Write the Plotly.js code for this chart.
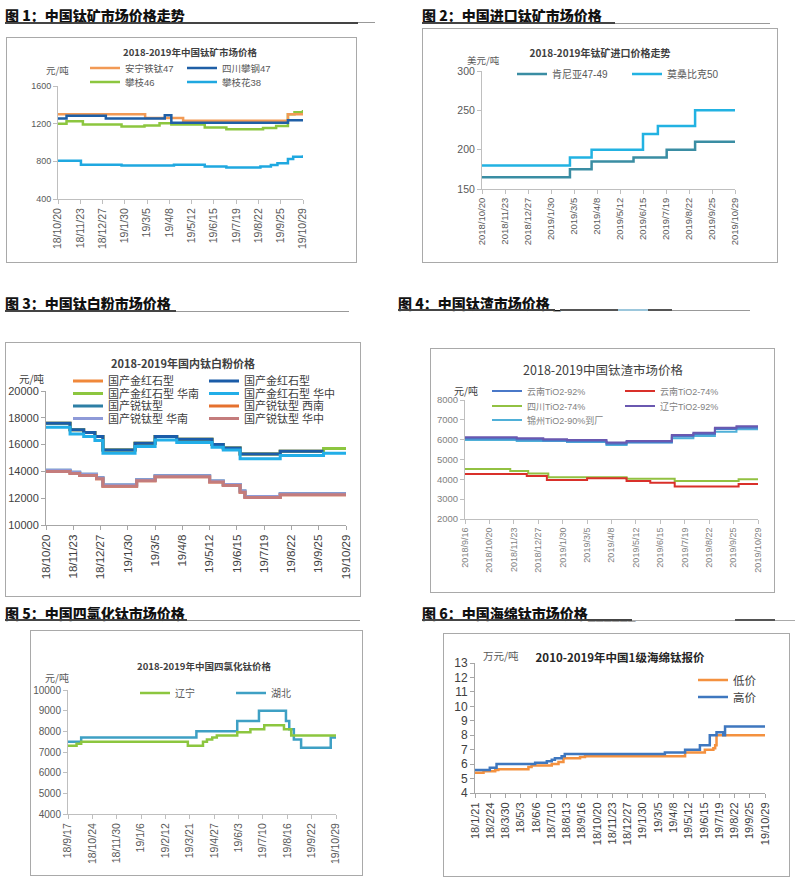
<!DOCTYPE html>
<html><head><meta charset="utf-8">
<script src="https://cdn.plot.ly/plotly-3.0.1.min.js"></script>
<style>
body{margin:0;background:#fff;width:800px;height:882px;position:relative;overflow:hidden;font-family:"Noto Sans CJK SC",sans-serif;}
.h{position:absolute;font-weight:900;font-size:14px;color:#111;line-height:16px;white-space:nowrap;}
.ul{position:absolute;height:0;}
.box{position:absolute;border:1px solid #a9a9a9;box-sizing:border-box;pointer-events:none;}
.chart{position:absolute;}
</style></head><body>
<div class="h" style="left:5px;top:7px">图 1：中国钛矿市场价格走势</div>
<div class="ul" style="left:5px;top:22px;width:353px;border-top:2px solid #444"></div>
<div class="ul" style="left:358px;top:22px;width:17px;border-top:1px solid #999"></div>
<div class="h" style="left:422px;top:7px">图 2：中国进口钛矿市场价格</div>
<div class="ul" style="left:422px;top:22px;width:193px;border-top:2px solid #444"></div>
<div class="ul" style="left:615px;top:23px;width:155px;border-top:1px solid #999"></div>
<div class="h" style="left:5px;top:295px">图 3：中国钛白粉市场价格</div>
<div class="ul" style="left:5px;top:310px;width:171px;border-top:2px solid #444"></div>
<div class="ul" style="left:176px;top:311px;width:173px;border-top:1px solid #999"></div>
<div class="h" style="left:398px;top:295px">图 4：中国钛渣市场价格 _</div>
<div class="ul" style="left:398px;top:309px;width:157px;border-top:2px solid #444"></div>
<div class="ul" style="left:560px;top:309px;width:58px;border-top:2px solid #555"></div>
<div class="ul" style="left:618px;top:309px;width:30px;border-top:2px solid #9cc7dc"></div>
<div class="ul" style="left:648px;top:309px;width:24px;border-top:2px solid #555"></div>
<div class="ul" style="left:672px;top:310px;width:78px;border-top:1px solid #999"></div>
<div class="h" style="left:5px;top:605px">图 5：中国四氯化钛市场价格</div>
<div class="ul" style="left:5px;top:619px;width:182px;border-top:2px solid #444"></div>
<div class="ul" style="left:187px;top:620px;width:173px;border-top:1px solid #999"></div>
<div class="h" style="left:422px;top:605px">图 6：中国海绵钛市场价格______</div>
<div class="ul" style="left:422px;top:619px;width:210px;border-top:2px solid #444"></div>
<div class="ul" style="left:632px;top:620px;width:103px;border-top:1px solid #aaa"></div>
<div class="ul" style="left:735px;top:619px;width:40px;border-top:2px solid #555"></div>
<div class="ul" style="left:775px;top:620px;width:20px;border-top:1px solid #aaa"></div>
<script>
// ---------- Panel 1: 中国钛矿 ----------
const p1_tickDates = ['2018-10-20','2018-11-23','2018-12-27','2019-01-30','2019-03-05','2019-04-08','2019-05-12','2019-06-15','2019-07-19','2019-08-22','2019-09-25','2019-10-29'];
const p1_tickText = ['18/10/20','18/11/23','18/12/27','19/1/30','19/3/5','19/4/8','19/5/12','19/6/15','19/7/19','19/8/22','19/9/25','19/10/29'];
const p1_names = ['安宁铁钛47','四川攀钢47','攀枝46','攀枝花38'];
const p1_anning_x = ['2018-10-20','2019-03-02','2019-04-29','2019-10-06','2019-10-29'];
const p1_anning_y = [1300,1260,1230,1300,1305];
const p1_panggang_x = ['2018-10-20','2018-11-02','2019-01-01','2019-04-01','2019-04-11','2019-10-06','2019-10-29'];
const p1_panggang_y = [1255,1285,1255,1290,1210,1235,1235];
const p1_pz46_x = ['2018-10-20','2018-11-02','2018-11-27','2019-01-25','2019-03-01','2019-03-24','2019-04-11','2019-06-01','2019-07-04','2019-08-29','2019-09-18','2019-10-06','2019-10-16','2019-10-29'];
const p1_pz46_y = [1200,1225,1190,1170,1180,1205,1190,1160,1140,1155,1175,1300,1320,1345];
const p1_pzh38_x = ['2018-10-20','2018-11-24','2019-01-25','2019-04-15','2019-06-01','2019-07-04','2019-08-25','2019-09-10','2019-09-20','2019-10-06','2019-10-14','2019-10-29'];
const p1_pzh38_y = [805,765,755,765,745,735,745,760,780,825,850,865];

// ---------- Panel 2: 进口钛矿 ----------
const p2_tickDates = p1_tickDates;
const p2_tickText = ['2018/10/20','2018/11/23','2018/12/27','2019/1/30','2019/3/5','2019/4/8','2019/5/12','2019/6/15','2019/7/19','2019/8/22','2019/9/25','2019/10/29'];
const p2_names = ['肯尼亚47-49','莫桑比克50'];
const p2_kenya_x = ['2018-10-20','2019-02-27','2019-03-31','2019-06-01','2019-07-20','2019-08-31','2019-10-29'];
const p2_kenya_y = [165,175,185,190,200,210,210];
const p2_moz_x = ['2018-10-20','2019-02-27','2019-03-31','2019-06-15','2019-07-07','2019-08-31','2019-10-29'];
const p2_moz_y = [180,190,200,220,230,250,250];

// ---------- Panel 3: 钛白粉 ----------
const p3_tickDates = p1_tickDates;
const p3_tickText = p1_tickText;
const p3_names = ['国产金红石型','国产金红石型','国产金红石型 华南','国产金红石型 华中','国产锐钛型','国产锐钛型 西南','国产锐钛型 华南','国产锐钛型 华中'];
const p3_rutile_x = ['2018-10-20','2018-11-19','2018-12-06','2018-12-20','2018-12-30','2019-02-08','2019-03-05','2019-04-01','2019-05-15','2019-05-29','2019-06-19','2019-08-08','2019-10-01'];
const p3_rutile_y = [17600,17100,16900,16600,15600,16100,16600,16400,16000,15750,15300,15500,15500];
const p3_rutileSouth_x = ['2018-10-20','2018-11-19','2018-12-06','2018-12-20','2018-12-30','2019-02-08','2019-03-05','2019-04-01','2019-05-15','2019-05-29','2019-06-19','2019-08-08','2019-10-01','2019-10-29'];
const p3_rutileSouth_y = [17600,17100,16900,16600,15600,16100,16600,16400,16000,15750,15300,15500,15700,15700];
const p3_rutileCentral_x = ['2018-10-20','2018-11-19','2018-12-06','2018-12-20','2018-12-30','2019-02-08','2019-03-05','2019-04-01','2019-05-15','2019-05-29','2019-06-19','2019-08-08','2019-10-01','2019-10-29'];
const p3_rutileCentral_y = [17300,16800,16600,16300,15350,15850,16350,16150,15800,15600,14950,15180,15350,15350];
const p3_anatase_x = ['2018-10-20','2018-11-19','2018-12-01','2018-12-22','2018-12-30','2019-02-10','2019-03-05','2019-05-12','2019-05-29','2019-06-19','2019-06-25','2019-08-08','2019-10-29'];
const p3_anatase_y = [14000,13850,13700,13450,12900,13300,13600,13200,12950,12450,12050,12250,12250];
const p3_anataseSouth_y = [14080,13930,13780,13530,12980,13380,13680,13280,13030,12530,12130,12330,12330];

// ---------- Panel 4: 钛渣 ----------
const p4_tickDates = ['2018-09-16','2018-10-20','2018-11-23','2018-12-27','2019-01-30','2019-03-05','2019-04-08','2019-05-12','2019-06-15','2019-07-19','2019-08-22','2019-09-25','2019-10-29'];
const p4_tickText = ['2018/9/16','2018/10/20','2018/11/23','2018/12/27','2019/1/30','2019/3/5','2019/4/8','2019/5/12','2019/6/15','2019/7/19','2019/8/22','2019/9/25','2019/10/29'];
const p4_names = ['云南TiO2-92%','云南TiO2-74%','四川TiO2-74%','辽宁TiO2-92%','锦州TiO2-90%到厂'];
const p4_ln92_x = ['2018-09-16','2018-11-27','2019-01-03','2019-02-05','2019-04-01','2019-04-29','2019-07-01','2019-07-31','2019-08-30','2019-09-29','2019-10-29'];
const p4_ln92_y = [6120,6070,6020,5980,5860,5930,6230,6350,6600,6680,6680];
const p4_yn92_y = [6060,6010,5960,5920,5800,5870,6170,6290,6540,6600,6600];
const p4_jz90_x = ['2018-09-16','2018-11-27','2019-02-05','2019-04-01','2019-04-29','2019-07-01','2019-07-31','2019-08-30','2019-09-29','2019-10-29'];
const p4_jz90_y = [5980,5930,5880,5730,5860,6070,6190,6400,6520,6520];
const p4_sc74_x = ['2018-09-16','2018-11-18','2018-12-13','2019-01-10','2019-04-29','2019-07-05','2019-10-02','2019-10-29'];
const p4_sc74_y = [4520,4420,4300,4100,4030,3910,4010,4010];
const p4_yn74_x = ['2018-09-16','2018-12-11','2019-01-08','2019-03-05','2019-04-29','2019-06-01','2019-07-05','2019-10-02','2019-10-29'];
const p4_yn74_y = [4270,4170,3970,4050,3920,3830,3640,3760,3760];

// ---------- Panel 5: 四氯化钛 ----------
const p5_tickDates = ['2018-09-17','2018-10-24','2018-11-30','2019-01-06','2019-02-12','2019-03-21','2019-04-27','2019-06-03','2019-07-10','2019-08-16','2019-09-22','2019-10-29'];
const p5_tickText = ['18/9/17','18/10/24','18/11/30','19/1/6','19/2/12','19/3/21','19/4/27','19/6/3','19/7/10','19/8/16','19/9/22','19/10/29'];
const p5_names = ['辽宁','湖北'];
const p5_liaoning_x = ['2018-09-17','2018-09-30','2018-10-07','2019-03-18','2019-04-10','2019-04-16','2019-04-24','2019-05-01','2019-06-01','2019-06-21','2019-07-12','2019-08-11','2019-08-22','2019-10-29'];
const p5_liaoning_y = [7300,7400,7500,7300,7500,7600,7700,7800,7950,8100,8300,8100,7800,7800];
const p5_hubei_x = ['2018-09-17','2018-10-07','2019-03-31','2019-06-01','2019-07-04','2019-08-14','2019-08-19','2019-08-26','2019-09-06','2019-10-21','2019-10-29'];
const p5_hubei_y = [7500,7700,8000,8500,9000,8500,8100,7600,7200,7700,7700];

// ---------- Panel 6: 海绵钛 ----------
const p6_tickDates = ['2018-01-21','2018-02-24','2018-03-30','2018-05-03','2018-06-06','2018-07-10','2018-08-13','2018-09-16','2018-10-20','2018-11-23','2018-12-27','2019-01-30','2019-03-05','2019-04-08','2019-05-12','2019-06-15','2019-07-19','2019-08-22','2019-09-25','2019-10-29'];
const p6_tickText = ['18/1/21','18/2/24','18/3/30','18/5/3','18/6/6','18/7/10','18/8/13','18/9/16','18/10/20','18/11/23','18/12/27','19/1/30','19/3/5','19/4/8','19/5/12','19/6/15','19/7/19','19/8/22','19/9/25','19/10/29'];
const p6_names = ['低价','高价'];
const p6_low_x = ['2018-01-21','2018-02-09','2018-03-07','2018-03-14','2018-05-20','2018-05-27','2018-07-11','2018-07-26','2018-08-06','2018-09-12','2018-09-23','2019-05-04','2019-06-17','2019-07-06','2019-07-10','2019-07-13','2019-10-29'];
const p6_low_y = [5.4,5.5,5.6,5.65,5.8,5.9,6.0,6.15,6.4,6.5,6.55,6.8,7.0,7.1,7.3,8.0,8.0];
const p6_high_x = ['2018-01-21','2018-02-23','2018-03-10','2018-06-04','2018-06-30','2018-07-11','2018-07-18','2018-08-02','2018-08-09','2019-03-20','2019-05-04','2019-06-06','2019-06-28','2019-07-13','2019-07-28','2019-08-01','2019-10-29'];
const p6_high_y = [5.6,5.75,6.0,6.1,6.2,6.3,6.4,6.55,6.7,6.8,7.0,7.3,8.0,8.2,8.0,8.6,8.6];

// ---------- builder ----------
const LAT = 'Liberation Sans, Arial, Noto Sans CJK SC, sans-serif';
const CJK = 'Noto Sans CJK SC, Liberation Sans, sans-serif';

function build(box, plot, spec) {
  const div = document.createElement('div');
  div.className = 'chart';
  Object.assign(div.style, {left: box.l+'px', top: box.t+'px', width: box.w+'px', height: box.h+'px'});
  document.body.appendChild(div);
  const fr = document.createElement('div');
  fr.className = 'box';
  Object.assign(fr.style, {left: box.l+'px', top: box.t+'px', width: box.w+'px', height: box.h+'px'});
  document.body.appendChild(fr);
  const pw = plot.x1 - plot.x0, ph = plot.y1 - plot.y0;
  const fx = X => (X - plot.x0) / pw, fy = Y => (plot.y1 - Y) / ph;
  const axc = spec.axisColor || '#bfbfbf';
  const layout = {
    width: box.w, height: box.h,
    margin: {l: plot.x0-box.l, r: box.l+box.w-plot.x1, t: plot.y0-box.t, b: box.t+box.h-plot.y1, pad: 0, autoexpand: false},
    paper_bgcolor: 'rgba(0,0,0,0)', plot_bgcolor: 'rgba(0,0,0,0)',
    showlegend: true,
    title: {text: spec.title, font: spec.titleFont, x: (spec.titlePos[0]-box.l)/box.w, y: 1-(spec.titlePos[1]-box.t)/box.h,
            xref: 'container', yref: 'container', xanchor: 'center', yanchor: 'middle'},
    xaxis: {type: 'date', range: spec.xRange, tickmode: 'array', tickvals: spec.tickDates, ticktext: spec.tickText,
            tickangle: -90, ticks: 'outside', ticklen: 4, tickcolor: axc, showline: true, linecolor: axc, linewidth: 1,
            showgrid: false, zeroline: false, tickfont: spec.xFont, fixedrange: true},
    yaxis: {range: spec.yRange, tick0: spec.yRange[0], dtick: spec.dtick, tickformat: 'd', ticks: 'outside', ticklen: 4, tickcolor: axc,
            showline: true, linecolor: axc, linewidth: 1, showgrid: false, zeroline: false, tickfont: spec.yFont, fixedrange: true},
    annotations: [{text: spec.unit, x: fx(spec.unitPos[0]), y: fy(spec.unitPos[1]), xref: 'paper', yref: 'paper',
                   showarrow: false, xanchor: 'center', yanchor: 'middle', font: spec.unitFont}]
  };
  const traces = spec.series.map(s => ({
    type: 'scatter', mode: 'lines', name: s.name, x: s.x, y: s.y,
    line: {shape: 'hv', color: s.color, width: s.width},
    legend: s.leg === 0 ? 'legend' : 'legend' + (s.leg + 1), hoverinfo: 'skip'
  }));
  spec.legendPos.forEach((p, k) => {
    layout[k === 0 ? 'legend' : 'legend' + (k + 1)] = {
      x: fx(p[0] - 40), y: fy(p[1]), xanchor: 'left', yanchor: 'middle', orientation: 'h',
      bgcolor: 'rgba(0,0,0,0)', borderwidth: 0, font: spec.legendFont
    };
  });
  Plotly.newPlot(div, traces, layout, {staticPlot: true, displayModeBar: false});
}

// Panel 1
build({l:6,t:37,w:351,h:226}, {x0:58,x1:303,y0:86,y1:199}, {
  title: '2018-2019年中国钛矿市场价格', titlePos: [190,53],
  titleFont: {family: CJK, size: 9.5, color: '#404040', weight: 700},
  unit: '元/吨', unitPos: [57,70], unitFont: {family: CJK, size: 9.5, color: '#595959'},
  xRange: ['2018-10-20','2019-10-29'], tickDates: p1_tickDates, tickText: p1_tickText,
  yRange: [400,1600], dtick: 400,
  xFont: {family: LAT, size: 10.5, color: '#595959'}, yFont: {family: LAT, size: 9, color: '#595959'},
  legendFont: {family: LAT, size: 9.5, color: '#595959'},
  legendPos: [[125,68],[222,68],[125,82],[222,82]],
  series: [
    {name: p1_names[2], x: p1_pz46_x, y: p1_pz46_y, color: '#8cc63f', width: 2.5, leg: 2},
    {name: p1_names[3], x: p1_pzh38_x, y: p1_pzh38_y, color: '#1fa8e0', width: 2.5, leg: 3},
    {name: p1_names[0], x: p1_anning_x, y: p1_anning_y, color: '#f29a55', width: 2.5, leg: 0},
    {name: p1_names[1], x: p1_panggang_x, y: p1_panggang_y, color: '#1f5fa6', width: 2.5, leg: 1}
  ]
});

// Panel 2
build({l:422,t:28,w:356,h:235}, {x0:482,x1:735,y0:71,y1:189}, {
  title: '2018-2019年钛矿进口价格走势', titlePos: [600,53],
  titleFont: {family: CJK, size: 10, color: '#404040', weight: 700},
  unit: '美元/吨', unitPos: [483,60], unitFont: {family: CJK, size: 9.5, color: '#595959'},
  xRange: ['2018-10-20','2019-10-29'], tickDates: p2_tickDates, tickText: p2_tickText,
  yRange: [150,300], dtick: 50,
  xFont: {family: LAT, size: 9.5, color: '#595959'}, yFont: {family: LAT, size: 10.5, color: '#595959'},
  legendFont: {family: LAT, size: 10, color: '#595959'},
  legendPos: [[552,74],[667,74]],
  series: [
    {name: p2_names[0], x: p2_kenya_x, y: p2_kenya_y, color: '#3a8da3', width: 2.5, leg: 0},
    {name: p2_names[1], x: p2_moz_x, y: p2_moz_y, color: '#22b2e2', width: 2.5, leg: 1}
  ]
});

// Panel 3
build({l:5,t:342,w:356,h:255}, {x0:46,x1:346,y0:391,y1:525}, {
  title: '2018-2019年国内钛白粉价格', titlePos: [183,364],
  titleFont: {family: CJK, size: 11, color: '#404040', weight: 700},
  unit: '元/吨', unitPos: [32,379], unitFont: {family: CJK, size: 10.5, color: '#404040'},
  xRange: ['2018-10-20','2019-10-29'], tickDates: p3_tickDates, tickText: p3_tickText,
  yRange: [10000,20000], dtick: 2000,
  xFont: {family: LAT, size: 11.5, color: '#404040'}, yFont: {family: LAT, size: 11, color: '#404040'},
  axisColor: '#a6a6a6',
  legendFont: {family: LAT, size: 11, color: '#404040'},
  legendPos: [[108,381],[244,381],[108,393.5],[244,393.5],[108,406],[244,406],[108,418.5],[244,418.5]],
  series: [
    {name: p3_names[0], x: p3_rutile_x, y: p3_rutile_y, color: '#f0883a', width: 3, leg: 0},
    {name: p3_names[2], x: p3_rutileSouth_x, y: p3_rutileSouth_y, color: '#8cc63f', width: 3, leg: 2},
    {name: p3_names[1], x: p3_rutile_x, y: p3_rutile_y, color: '#1b5ca8', width: 3, leg: 1},
    {name: p3_names[3], x: p3_rutileCentral_x, y: p3_rutileCentral_y, color: '#22aee8', width: 3, leg: 3},
    {name: p3_names[4], x: p3_anatase_x, y: p3_anataseSouth_y, color: '#2d7fa5', width: 3, leg: 4},
    {name: p3_names[5], x: p3_anatase_x, y: p3_anatase_y, color: '#e5712e', width: 3, leg: 5},
    {name: p3_names[6], x: p3_anatase_x, y: p3_anataseSouth_y, color: '#8e9ad8', width: 3, leg: 6},
    {name: p3_names[7], x: p3_anatase_x, y: p3_anatase_y, color: '#c47c7c', width: 3, leg: 7}
  ]
});

// Panel 4
build({l:430,t:348,w:345,h:245}, {x0:465,x1:758,y0:400,y1:519}, {
  title: '2018-2019中国钛渣市场价格', titlePos: [603,371],
  titleFont: {family: CJK, size: 12.5, color: '#404040'},
  unit: '元/吨', unitPos: [466,390], unitFont: {family: CJK, size: 10, color: '#404040'},
  xRange: ['2018-09-16','2019-10-29'], tickDates: p4_tickDates, tickText: p4_tickText,
  yRange: [2000,8000], dtick: 1000,
  xFont: {family: LAT, size: 9, color: '#7f7f7f'}, yFont: {family: LAT, size: 9.5, color: '#7f7f7f'},
  legendFont: {family: LAT, size: 9, color: '#7f7f7f'},
  legendPos: [[527,391],[660,391],[527,406],[660,406],[527,420]],
  series: [
    {name: p4_names[2], x: p4_sc74_x, y: p4_sc74_y, color: '#92c142', width: 2, leg: 2},
    {name: p4_names[1], x: p4_yn74_x, y: p4_yn74_y, color: '#d9302a', width: 2, leg: 1},
    {name: p4_names[4], x: p4_jz90_x, y: p4_jz90_y, color: '#4fb0d8', width: 2, leg: 4},
    {name: p4_names[0], x: p4_ln92_x, y: p4_yn92_y, color: '#4a78c8', width: 2, leg: 0},
    {name: p4_names[3], x: p4_ln92_x, y: p4_ln92_y, color: '#6a58b0', width: 2, leg: 3}
  ]
});

// Panel 5
build({l:30,t:630,w:333,h:246}, {x0:68,x1:336,y0:690,y1:814}, {
  title: '2018-2019年中国四氯化钛价格', titlePos: [204,667],
  titleFont: {family: CJK, size: 9.5, color: '#404040', weight: 700},
  unit: '元/吨', unitPos: [57,677], unitFont: {family: CJK, size: 10, color: '#595959'},
  xRange: ['2018-09-17','2019-10-29'], tickDates: p5_tickDates, tickText: p5_tickText,
  yRange: [4000,10000], dtick: 1000,
  xFont: {family: LAT, size: 10.5, color: '#595959'}, yFont: {family: LAT, size: 10, color: '#595959'},
  legendFont: {family: LAT, size: 10, color: '#595959'},
  legendPos: [[175,693],[271,693]],
  series: [
    {name: p5_names[1], x: p5_hubei_x, y: p5_hubei_y, color: '#3ea0c4', width: 2.5, leg: 1},
    {name: p5_names[0], x: p5_liaoning_x, y: p5_liaoning_y, color: '#8cc63f', width: 2.5, leg: 0}
  ]
});

// Panel 6
build({l:443,t:633,w:347,h:244}, {x0:475,x1:765,y0:663,y1:793}, {
  title: '2010-2019年中国1级海绵钛报价', titlePos: [620,658],
  titleFont: {family: CJK, size: 11.5, color: '#262626', weight: 700},
  unit: '万元/吨', unitPos: [501,655], unitFont: {family: CJK, size: 10.5, color: '#595959'},
  xRange: ['2018-01-21','2019-10-29'], tickDates: p6_tickDates, tickText: p6_tickText,
  yRange: [4,13], dtick: 1,
  xFont: {family: LAT, size: 11, color: '#404040'}, yFont: {family: LAT, size: 12, color: '#404040'},
  axisColor: '#a6a6a6',
  legendFont: {family: LAT, size: 11.5, color: '#404040'},
  legendPos: [[733,680],[733,697]],
  series: [
    {name: p6_names[0], x: p6_low_x, y: p6_low_y, color: '#f4913f', width: 2.5, leg: 0},
    {name: p6_names[1], x: p6_high_x, y: p6_high_y, color: '#3e77bf', width: 2.5, leg: 1}
  ]
});
</script>
</body></html>
